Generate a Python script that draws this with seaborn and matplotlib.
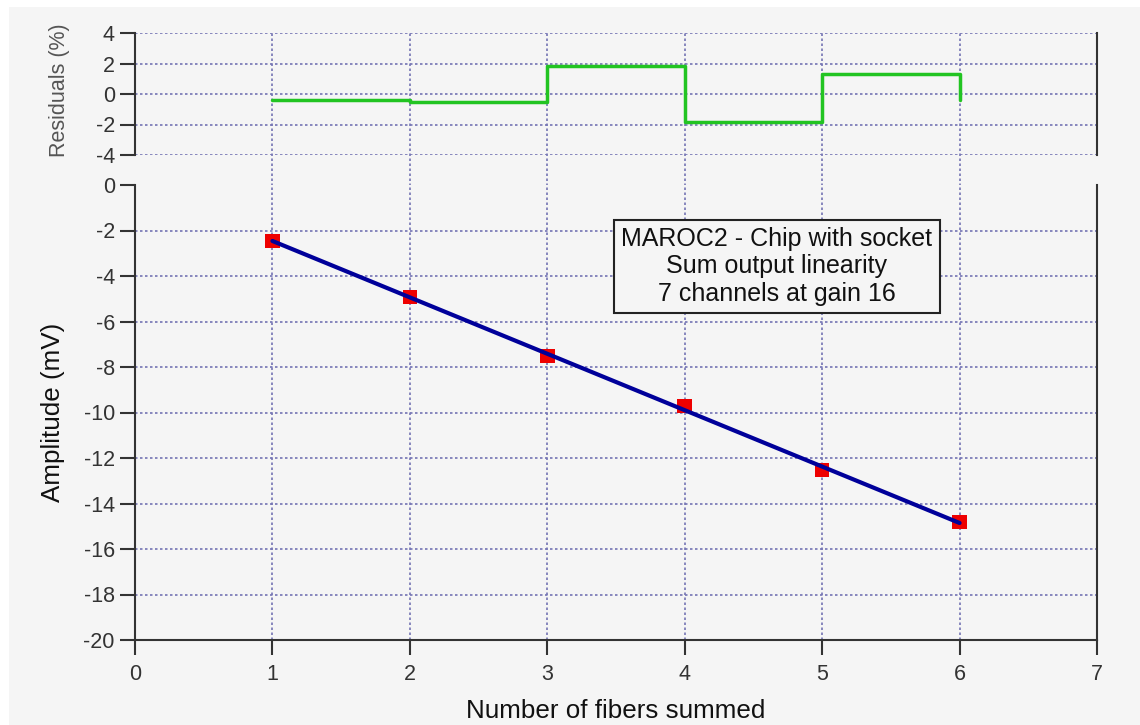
import numpy as np
import pandas as pd
import matplotlib
matplotlib.use("Agg")
import matplotlib.pyplot as plt
from matplotlib.patches import Rectangle
import seaborn as sns

# ---- data ----
fibers = [1, 2, 3, 4, 5, 6]
amplitude_mv = [-2.46, -4.92, -7.52, -9.71, -12.53, -14.81]
residuals_pct = [-0.4, -0.55, 1.82, -1.82, 1.3, -0.4]
x_ticks = [0, 1, 2, 3, 4, 5, 6, 7]
y_ticks_main = [0, -2, -4, -6, -8, -10, -12, -14, -16, -18, -20]
y_ticks_res = [4, 2, 0, -2, -4]
annotation = "MAROC2 - Chip with socket\nSum output linearity\n7 channels at gain 16"

df = pd.DataFrame({"fibers": fibers, "amp": amplitude_mv, "res": residuals_pct})

sns.set_theme(style="white")
plt.rcParams["font.family"] = ["Liberation Sans", "DejaVu Sans"]
plt.rcParams["axes.unicode_minus"] = False

BG = "#f5f5f5"
GRID = "#7474b4"
SPINE = "#333333"
DOT = (0, (1.5, 1.5))

fig = plt.figure(figsize=(11.4, 7.25), dpi=100, facecolor=BG)
W, H = 1140, 725
# white margins of the original screenshot
fig.patches.append(Rectangle((0, 1 - 7 / H), 1, 7 / H, transform=fig.transFigure,
                             facecolor="white", edgecolor="none", zorder=-10))
fig.patches.append(Rectangle((0, 0), 9 / W, 1, transform=fig.transFigure,
                             facecolor="white", edgecolor="none", zorder=-10))

left = 135 / W
width = (1097 - 135) / W
ax_res = fig.add_axes([left, 1 - 155 / H, width, 122 / H])
ax = fig.add_axes([left, 1 - 640 / H, width, 455 / H])

for a in (ax, ax_res):
    a.set_facecolor(BG)
    a.set_xlim(0, 7)
    for s in a.spines.values():
        s.set_color(SPINE)
        s.set_linewidth(1.5)
    a.spines["top"].set_visible(False)
    a.tick_params(axis="y", which="both", left=True, direction="out", length=10.5,
                  width=1.5, color=SPINE, labelsize=15.5, labelcolor="#333333", pad=4)

# ---- residuals panel ----
ax_res.set_ylim(-4, 4)
ax_res.spines["bottom"].set_visible(False)
ax_res.set_yticks(y_ticks_res)
ax_res.set_xticks([])
for yv in y_ticks_res:
    ax_res.axhline(yv, color=GRID, ls=DOT, lw=1.2, zorder=0)
for xv in x_ticks[1:-1]:
    ax_res.axvline(xv, ymin=-0.25, ymax=1, color=GRID, ls=DOT, lw=1.2,
                   zorder=0, clip_on=False)
sns.lineplot(data=df, x="fibers", y="res", ax=ax_res, color="#22c422", lw=2.5,
             drawstyle="steps-post", zorder=3)
ax_res.set_xlabel("")
ax_res.set_ylabel("Residuals (%)", fontsize=15.5, color="#555555")
ax_res.yaxis.set_label_coords(-0.068, 0.53)

# ---- main panel ----
ax.set_ylim(-20, 0)
ax.set_yticks(y_ticks_main)
ax.set_xticks(x_ticks)
ax.tick_params(axis="x", which="both", bottom=True, direction="out", length=10.5,
               width=1.5, color=SPINE, labelsize=15.5, labelcolor="#333333", pad=7)
for yv in y_ticks_main[1:-1]:
    ax.axhline(yv, color=GRID, ls=DOT, lw=1.2, zorder=0)
for xv in x_ticks[1:-1]:
    ax.axvline(xv, color=GRID, ls=DOT, lw=1.2, zorder=0)

sns.regplot(data=df, x="fibers", y="amp", ax=ax, ci=None, truncate=True,
            marker="s",
            scatter_kws={"color": "#ee0000", "s": 110, "alpha": 1, "zorder": 3,
                         "edgecolors": "none"},
            line_kws={"color": "#00009a", "lw": 3, "zorder": 4})

ax.set_xlabel("Number of fibers summed", fontsize=18.7, color="#111111")
ax.xaxis.set_label_coords(0.5, -0.13)
ax.xaxis.label.set_verticalalignment("top")
ax.set_ylabel("Amplitude (mV)", fontsize=18.7, color="#111111")
ax.yaxis.set_label_coords(-0.073, 0.5)

ax.text(4.67, -3.58, annotation, ha="center", va="center", fontsize=18,
        color="#111111", linespacing=1.17, zorder=5,
        bbox=dict(boxstyle="square,pad=0.3", facecolor=BG, edgecolor="#222222", lw=1.5))

fig.savefig("out.png", dpi=100, facecolor=BG)
